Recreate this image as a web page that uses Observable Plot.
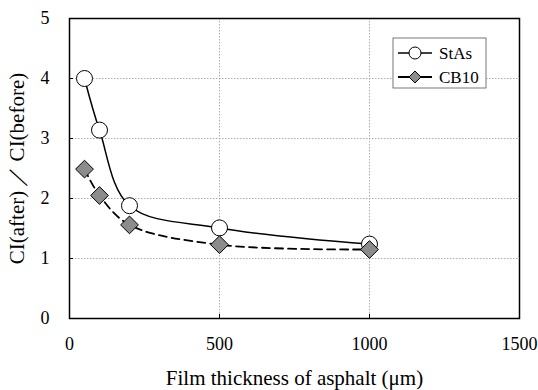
<!DOCTYPE html>
<html><head><meta charset="utf-8">
<script src="https://cdn.jsdelivr.net/npm/d3@7"></script>
<script src="https://cdn.jsdelivr.net/npm/@observablehq/plot@0.6"></script>
<style>body{margin:0;background:#fff}</style>
</head><body><div id="chart"></div>
<script>
const thickness = [50, 100, 200, 500, 1000];
const stAs = [4.0, 3.14, 1.88, 1.51, 1.24];
const cb10 = [2.49, 2.05, 1.56, 1.23, 1.15];
const seriesNames = ["StAs", "CB10"];
const xTicks = [0, 500, 1000, 1500];
const yTicks = [0, 1, 2, 3, 4, 5];

const dataA = thickness.map((x, i) => ({x, y: stAs[i]}));
const dataB = thickness.map((x, i) => ({x, y: cb10[i]}));
const font = "'Liberation Serif', 'Times New Roman', serif";

const chart = Plot.plot({
  width: 538, height: 390,
  marginLeft: 69, marginTop: 18, marginRight: 19, marginBottom: 72,
  style: {fontFamily: font, fontSize: "18px", background: "#fff", color: "#000"},
  x: {domain: [0, 1500]},
  y: {domain: [0, 5]},
  marks: [
    Plot.gridX([500, 1000], {stroke: "#999", strokeOpacity: 1, strokeWidth: 0.8, strokeDasharray: "1.5,1.5"}),
    Plot.gridY([1, 2, 3, 4], {stroke: "#999", strokeOpacity: 1, strokeWidth: 0.8, strokeDasharray: "1.5,1.5"}),
    Plot.axisX(xTicks, {tickSize: -4, tickPadding: 23, fontSize: 18, tickFormat: d3.format("d"), label: "Film thickness of asphalt (\u03bcm)", labelAnchor: "center", labelOffset: 66, labelArrow: "none"}),
    Plot.axisY(yTicks, {tickSize: -4, tickPadding: 24, fontSize: 18, tickFormat: d3.format("d"), label: "CI(after)\u2009\uff0f\u2009CI(before)", labelAnchor: "center", labelOffset: 60, labelArrow: "none"}),
    Plot.frame({stroke: "#000", strokeWidth: 1.5}),
    Plot.line(dataA, {x: "x", y: "y", curve: "catmull-rom", stroke: "#000", strokeWidth: 1.5}),
    Plot.line(dataB, {x: "x", y: "y", curve: "catmull-rom", stroke: "#000", strokeWidth: 1.8, strokeDasharray: "8,5"}),
    Plot.dot(dataA, {x: "x", y: "y", r: 8, fill: "#fff", stroke: "#000", strokeWidth: 1}),
    Plot.dot(dataB, {x: "x", y: "y", r: 8, symbol: "diamond2", fill: "#8c8c8c", stroke: "#000", strokeWidth: 1})
  ]
});
document.getElementById("chart").appendChild(chart);

const svg = d3.select(chart);
svg.selectAll("[aria-label='x-axis label'] text, [aria-label='y-axis label'] text").style("font-size", "21px");

// legend
const lg = svg.append("g").attr("font-family", font).style("font-size", "17px").attr("text-anchor", "start");
lg.append("rect").attr("x", 393).attr("y", 38).attr("width", 93).attr("height", 50)
  .attr("fill", "#fff").attr("stroke", "#555").attr("stroke-width", 0.8);
seriesNames.forEach((name, i) => {
  const cy = 53 + i * 24;
  lg.append("line").attr("x1", 398).attr("x2", 432).attr("y1", cy).attr("y2", cy)
    .attr("stroke", "#000").attr("stroke-width", i === 0 ? 1.5 : 2);
  if (i === 0) {
    lg.append("circle").attr("cx", 415).attr("cy", cy).attr("r", 6).attr("fill", "#fff").attr("stroke", "#000");
  } else {
    lg.append("path").attr("d", d3.symbol(d3.symbolDiamond2, 92)()).attr("transform", `translate(415,${cy})`)
      .attr("fill", "#8c8c8c").attr("stroke", "#000");
  }
  lg.append("text").attr("x", 439).attr("y", cy).attr("dy", "0.35em").text(name);
});
</script></body></html>
